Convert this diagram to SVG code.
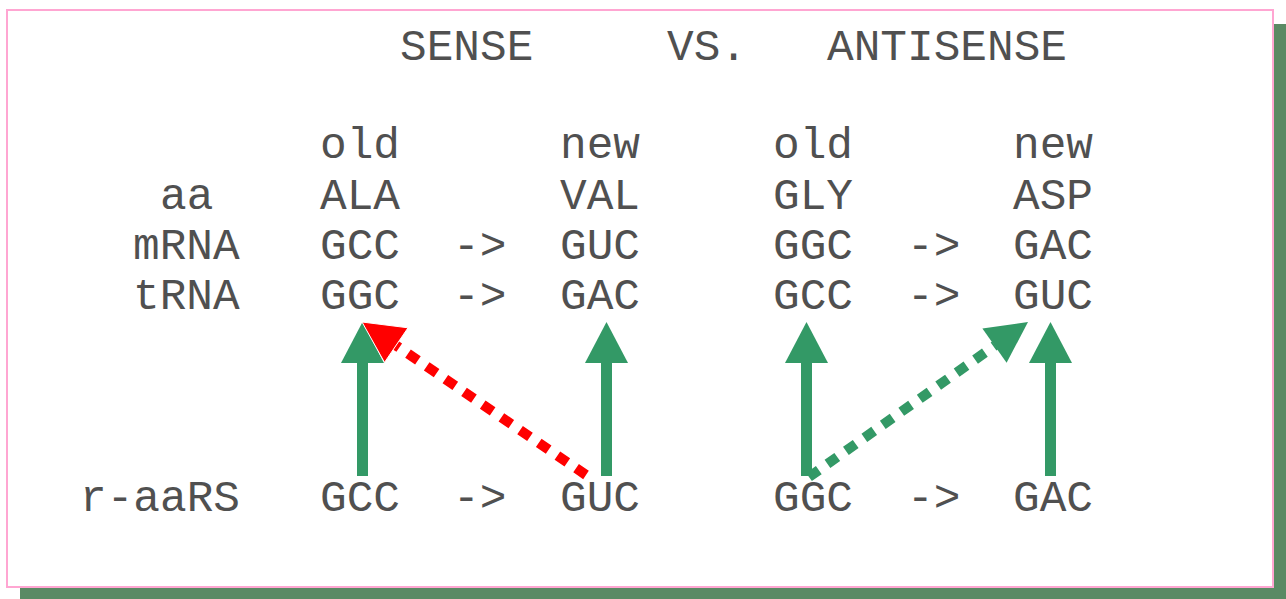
<svg xmlns="http://www.w3.org/2000/svg" width="1286" height="599" viewBox="0 0 1286 599">
<style>
text{font-family:"Liberation Mono","Courier New",monospace;font-size:44.44px;fill:#505050}
.g{fill:#339966}
.gs{stroke:#339966;stroke-width:10;stroke-dasharray:12 10.6;fill:none}
.rs{stroke:#ff0000;stroke-width:10;stroke-dasharray:12 10.6;fill:none}
</style>
<rect x="20" y="24" width="1266" height="575" fill="#5a8a64"/>
<rect x="7" y="10" width="1266" height="577" fill="#fff" stroke="#ffa6d2" stroke-width="2"/>
<g id="title">
<text x="400" y="60">SENSE</text>
<text x="667" y="60">VS.</text>
<text x="827" y="60">ANTISENSE</text>
</g>
<g id="headers">
<text x="320" y="158">old</text>
<text x="560" y="158">new</text>
<text x="773" y="158">old</text>
<text x="1013" y="158">new</text>
</g>
<g id="row-aa">
<text x="160" y="209">aa</text>
<text x="320" y="209">ALA</text>
<text x="560" y="209">VAL</text>
<text x="773" y="209">GLY</text>
<text x="1013" y="209">ASP</text>
</g>
<g id="row-mrna">
<text x="133" y="259">mRNA</text>
<text x="320" y="259">GCC</text>
<text x="453" y="259">-&gt;</text>
<text x="560" y="259">GUC</text>
<text x="773" y="259">GGC</text>
<text x="907" y="259">-&gt;</text>
<text x="1013" y="259">GAC</text>
</g>
<g id="row-trna">
<text x="133" y="309">tRNA</text>
<text x="320" y="309">GGC</text>
<text x="453" y="309">-&gt;</text>
<text x="560" y="309">GAC</text>
<text x="773" y="309">GCC</text>
<text x="907" y="309">-&gt;</text>
<text x="1013" y="309">GUC</text>
</g>
<g id="row-raars">
<text x="80" y="511">r-aaRS</text>
<text x="320" y="511">GCC</text>
<text x="453" y="511">-&gt;</text>
<text x="560" y="511">GUC</text>
<text x="773" y="511">GGC</text>
<text x="907" y="511">-&gt;</text>
<text x="1013" y="511">GAC</text>
</g>
<g id="connectors">
<rect class="g" x="357" y="361" width="11" height="115"/>
<polygon class="g" points="362.5,322 341,363 384,363"/>
<rect class="g" x="601" y="361" width="11" height="115"/>
<polygon class="g" points="606.5,322 585,363 628,363"/>
<rect class="g" x="801" y="361" width="11" height="115"/>
<polygon class="g" points="806.5,322 785,363 828,363"/>
<rect class="g" x="1045" y="361" width="11" height="115"/>
<polygon class="g" points="1050.5,322 1029,363 1072,363"/>
<line class="rs" x1="586" y1="475" x2="396" y2="345.5"/>
<polygon fill="#ff0000" stroke="#fff" stroke-width="1" points="362,322 408,327.8 384.5,362.4"/>
<line class="gs" x1="809" y1="477" x2="995" y2="345.5"/>
<polygon class="g" points="1028,322 1006.6,362.8 982.4,328.6"/>
</g>
</svg>
